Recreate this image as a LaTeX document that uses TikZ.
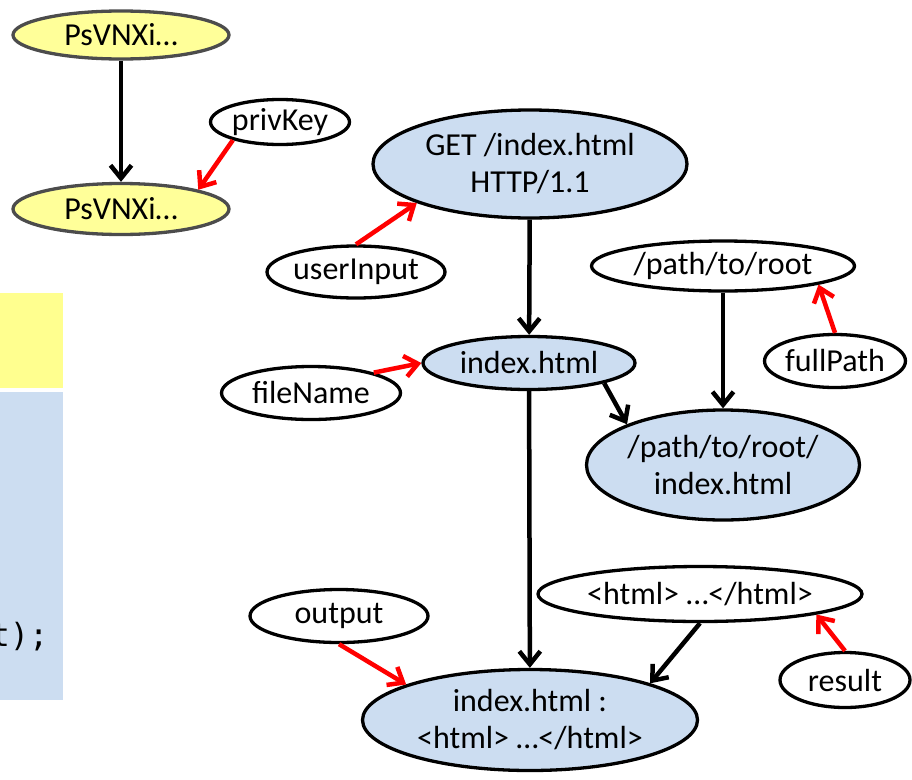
\documentclass[tikz,border=0pt]{standalone}
\usepackage{fontspec}
\setmainfont{Carlito}
\setmonofont{DejaVu Sans Mono}
\usetikzlibrary{shapes.geometric,arrows.meta}

\definecolor{valblue}{HTML}{CCDDF1}
\definecolor{keyyellow}{HTML}{FFFF99}
\definecolor{boxyellow}{HTML}{FFFF8F}

\tikzset{
  ell/.style={ellipse, draw, line width=3.3pt, inner sep=0pt, align=center,
    font=\fontsize{32}{37}\selectfont},
  var/.style={ell, fill=white},
  val/.style={ell, fill=valblue},
  key/.style={ell, draw=black!70, fill=keyyellow},
  flow/.style={-{Straight Barb[length=13pt,width=21pt]}, line width=4.5pt},
  taint/.style={flow, red},
}

\begin{document}
\begin{tikzpicture}[x=1pt,y=-1pt]
  \useasboundingbox (0,0) rectangle (912,779);

  % code boxes, cut at the left
  \fill[boxyellow] (0,293) rectangle (63,388);
  \fill[valblue] (0,392) rectangle (63,700);
  \begin{scope}
    \clip (0,392) rectangle (63,700);
    \node[anchor=base west, inner sep=0pt, font=\ttfamily\fontsize{32}{36}\selectfont] (code) at (-9.5,646) {t);};
  \end{scope}

  % key
  \node[key, minimum width=216, minimum height=48] (ps1) at (121,35) {PsVNXi…};
  \node[key, minimum width=216, minimum height=51] (ps2) at (121,209) {PsVNXi…};
  \node[var, minimum width=139, minimum height=45] (privKey) at (280,122) {privKey};
  \draw[flow] (ps1) -- (ps2);
  \draw[taint] (privKey.201) -- (ps2.14);

  % request
  \node[val, minimum width=314, minimum height=108] (get) at (530,164) {GET /index.html\\HTTP/1.1};
  \node[var, minimum width=178, minimum height=52] (userInput) at (356,272) {userInput};
  \node[val, minimum width=212, minimum height=53] (idx) at (529,363) {index.html};
  \node[var, minimum width=179, minimum height=53] (fileName) at (311,393) {fileName};
  \draw[taint] (userInput.north) -- (get.199);
  \draw[flow] (get) -- (idx);
  \draw[taint] (fileName.18) -- (idx.west);

  % path
  \node[var, minimum width=263, minimum height=50] (root) at (723,266) {/path/to/root};
  \node[var, minimum width=140, minimum height=53] (fullPath) at (835,361) {fullPath};
  \node[val, minimum width=273, minimum height=110] (pidx) at (723,465) {/path/to/root/\\index.html};
  \draw[taint] (fullPath.north) -- (root.-11);
  \draw[flow] (root) -- (pidx);
  \draw[flow] (idx.-15) -- (pidx.157);

  % output
  \node[var, minimum width=324, minimum height=55] (html) at (700,594) {<html> …</html>};
  \node[var, minimum width=130, minimum height=55] (result) at (845,680) {result};
  \node[var, minimum width=178, minimum height=53] (output) at (339,616) {output};
  \node[val, minimum width=335, minimum height=101] (final) at (530,720) {index.html :\\<html> …</html>};
  \draw[taint] (result.north) -- (html.-10);
  \draw[flow] (idx) -- (final);
  \draw[flow] (html.south) -- (final.17);
  \draw[taint] (output.south) -- (final.164);
\end{tikzpicture}
\end{document}
